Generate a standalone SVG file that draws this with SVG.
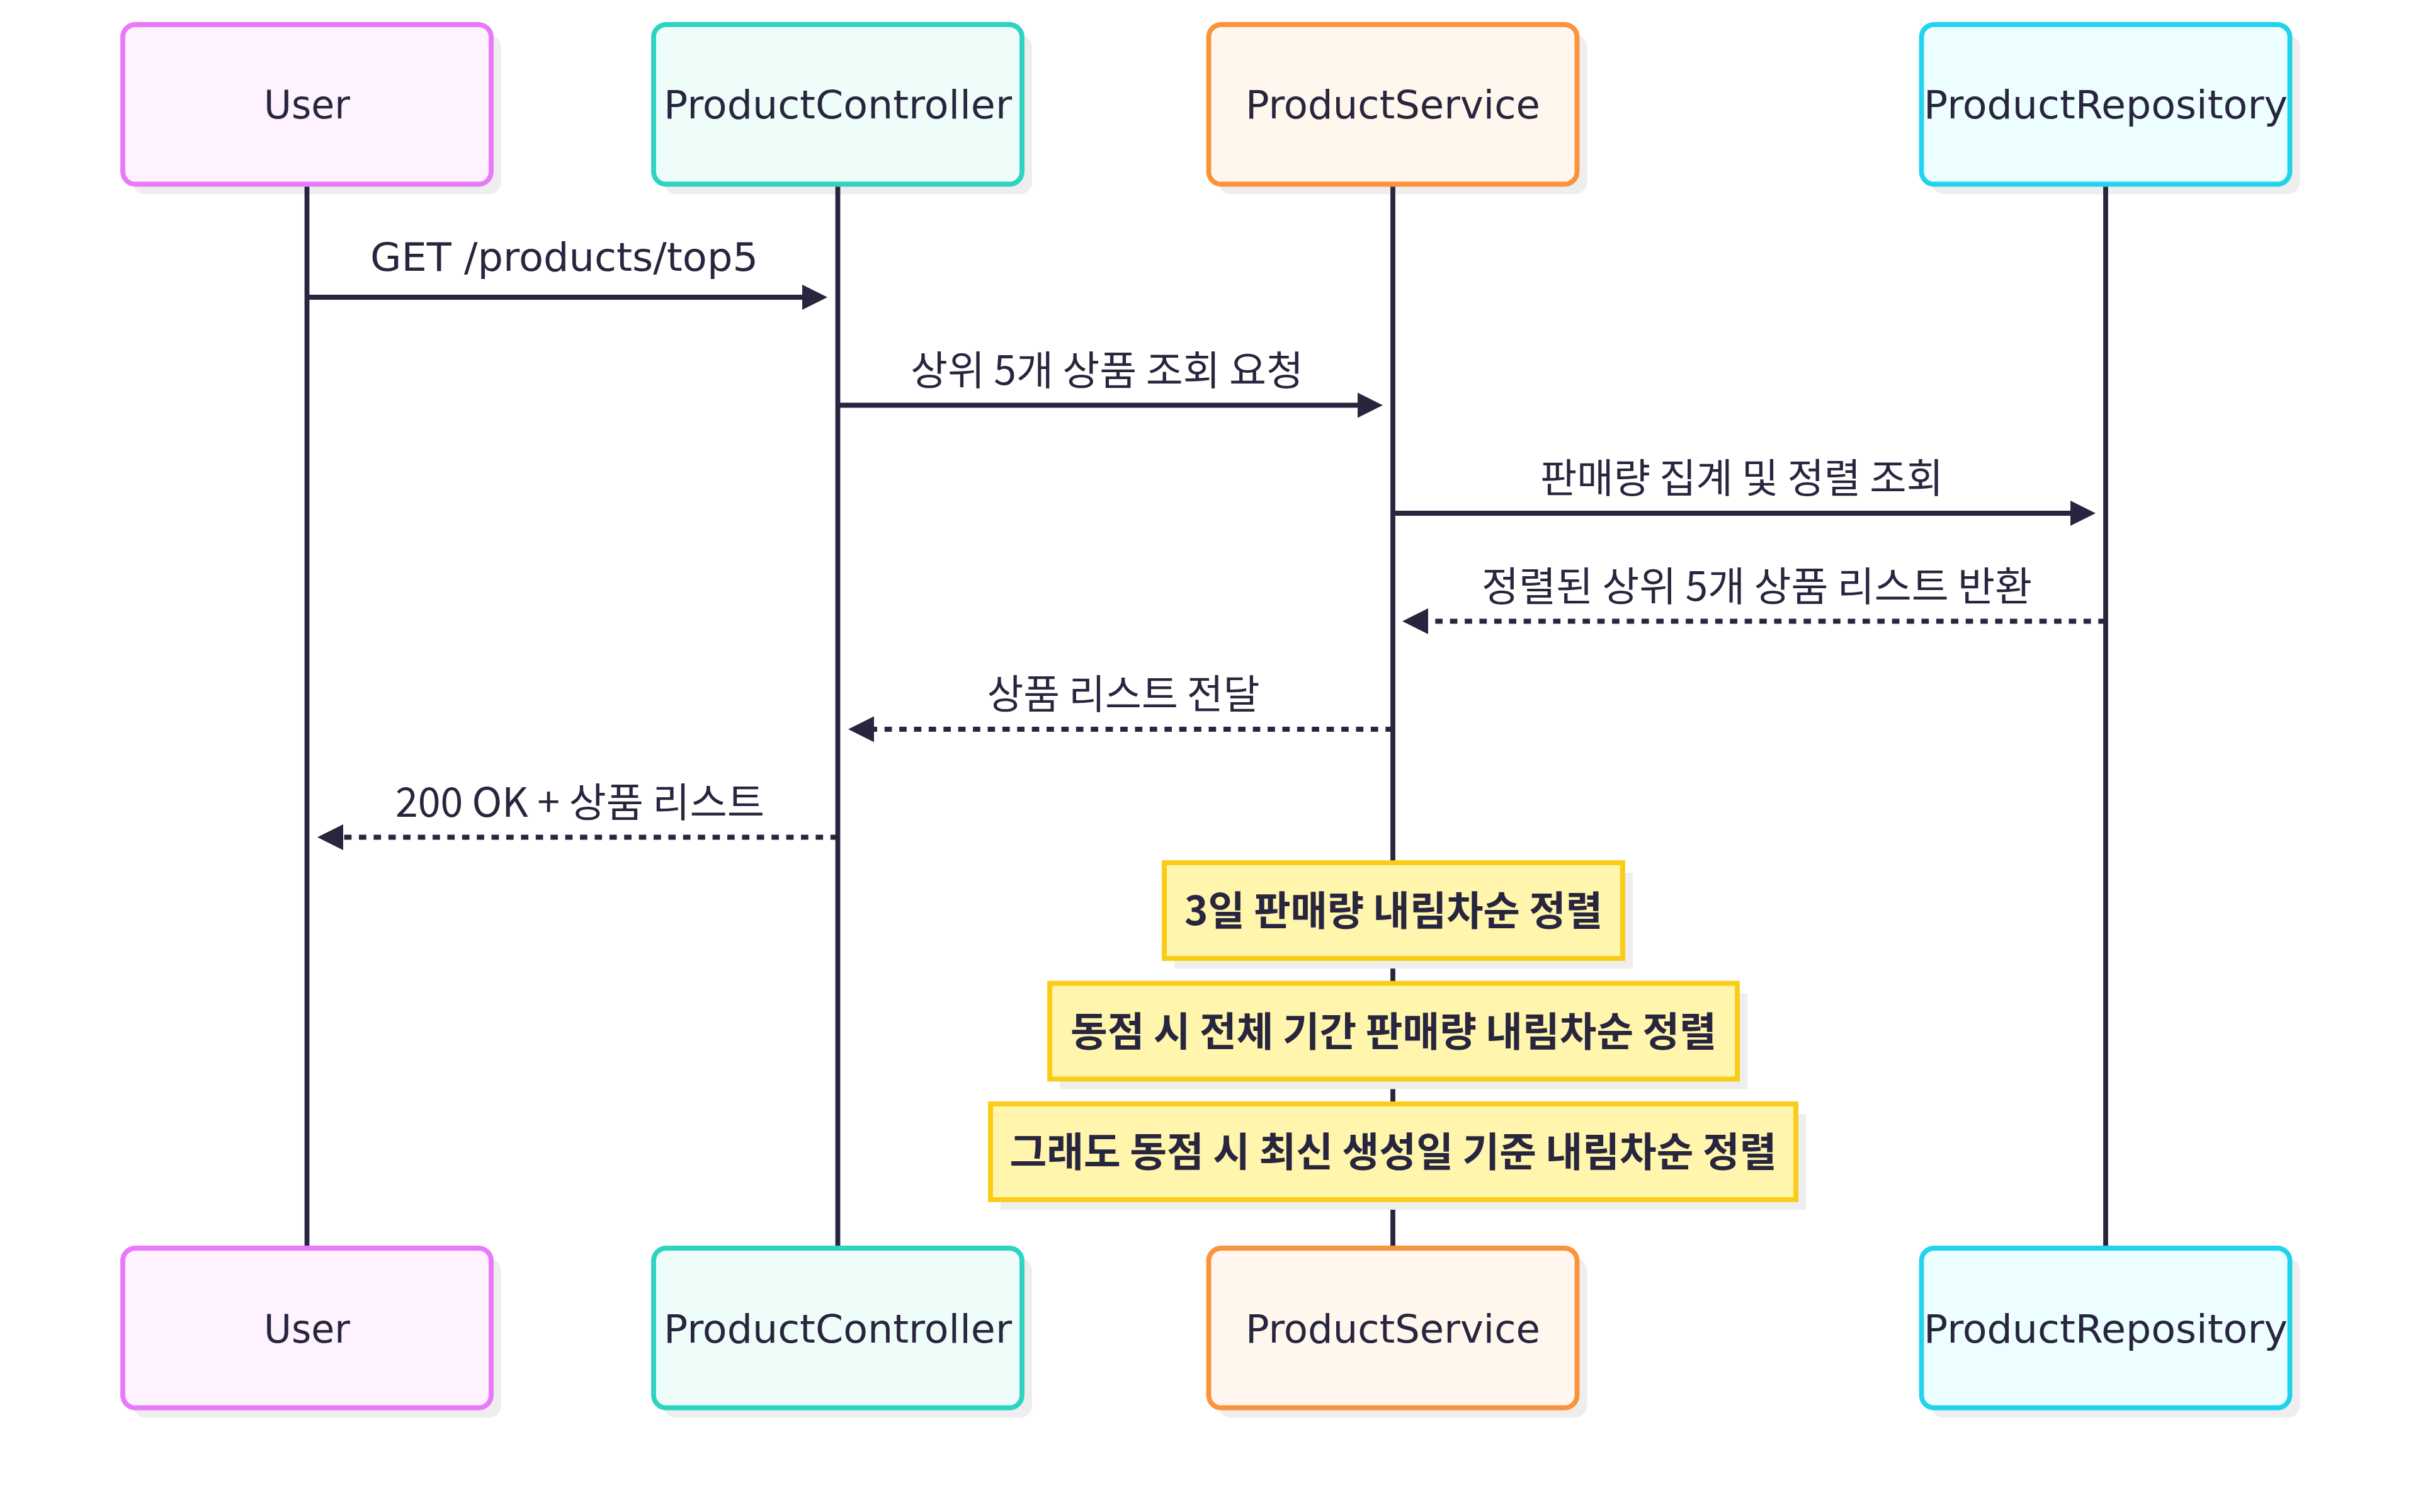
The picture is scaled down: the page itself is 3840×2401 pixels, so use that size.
<svg xmlns="http://www.w3.org/2000/svg" width="3840" height="2401" viewBox="0 0 3840 2401">
<style>
  .bg { fill: #ffffff; }
  .shadow { fill: #eeeeee; }
  .actor { stroke-width: 7.8; }
  .user { fill: #fdf2fe; stroke: #e879f9; }
  .ctrl { fill: #effdfa; stroke: #2dd4bf; }
  .svc { fill: #fff6ed; stroke: #fb923c; }
  .repo { fill: #ecfeff; stroke: #22d3ee; }
  .lbl { font-family: "DejaVu Sans", "Noto Sans CJK KR", sans-serif; font-size: 62.4px; fill: #28263e; text-anchor: middle; }
  .ko { font-family: "Noto Sans CJK KR", "Noto Sans", sans-serif; font-size: 64px; }
  .note-t { font-weight: bold; }
  .life { stroke: #28263e; stroke-width: 7.8; fill: none; }
  .msg { stroke: #28263e; stroke-width: 7.8; fill: none; }
  .dot { stroke-dasharray: 11.7 11.7; }
  .head { fill: #28263e; }
  .note { fill: #fff5ad; stroke: #facc15; stroke-width: 7.8; }
</style>
<rect class="bg" x="0" y="0" width="3840" height="2401"/>

<g id="actor-user-top">
  <rect class="shadow" x="211" y="55" width="585" height="253.5" rx="20"/>
  <rect class="actor user" x="195" y="39" width="585" height="253.5" rx="20"/>
  <text class="lbl" x="487.5" y="188" textLength="137" lengthAdjust="spacingAndGlyphs">User</text>
</g>
<g id="actor-controller-top">
  <rect class="shadow" x="1054" y="55" width="585" height="253.5" rx="20"/>
  <rect class="actor ctrl" x="1038" y="39" width="585" height="253.5" rx="20"/>
  <text class="lbl" x="1330.5" y="188" textLength="553" lengthAdjust="spacingAndGlyphs">ProductController</text>
</g>
<g id="actor-service-top">
  <rect class="shadow" x="1935.5" y="55" width="585" height="253.5" rx="20"/>
  <rect class="actor svc" x="1919.5" y="39" width="585" height="253.5" rx="20"/>
  <text class="lbl" x="2212" y="188" textLength="468" lengthAdjust="spacingAndGlyphs">ProductService</text>
</g>
<g id="actor-repository-top">
  <rect class="shadow" x="3067.5" y="55" width="585" height="253.5" rx="20"/>
  <rect class="actor repo" x="3051.5" y="39" width="585" height="253.5" rx="20"/>
  <text class="lbl" x="3344" y="188" textLength="578" lengthAdjust="spacingAndGlyphs">ProductRepository</text>
</g>

<g id="lifelines">
  <line class="life" x1="487.5" y1="296.4" x2="487.5" y2="1980"/>
  <line class="life" x1="1330.5" y1="296.4" x2="1330.5" y2="1980"/>
  <line class="life" x1="2212" y1="296.4" x2="2212" y2="1980"/>
  <line class="life" x1="3344" y1="296.4" x2="3344" y2="1980"/>
</g>

<g id="connectors">
  <g id="msg1">
    <line class="msg" x1="487.5" y1="472" x2="1300" y2="472"/>
    <polygon class="head" points="1314,472 1274,452 1274,492"/>
    <text class="lbl" x="896" y="430" textLength="616" lengthAdjust="spacingAndGlyphs">GET /products/top5</text>
  </g>
  <g id="msg2">
    <line class="msg" x1="1330.5" y1="643.5" x2="2182" y2="643.5"/>
    <polygon class="head" points="2196,643.5 2156,623.5 2156,663.5"/>
    <text class="lbl ko" x="1758" y="610.5" textLength="624" lengthAdjust="spacingAndGlyphs">상위 5개 상품 조회 요청</text>
  </g>
  <g id="msg3">
    <line class="msg" x1="2212" y1="815" x2="3314" y2="815"/>
    <polygon class="head" points="3328,815 3288,795 3288,835"/>
    <text class="lbl ko" x="2766" y="782" textLength="640" lengthAdjust="spacingAndGlyphs">판매량 집계 및 정렬 조회</text>
  </g>
  <g id="msg4">
    <line class="msg dot" x1="3344" y1="986.5" x2="2266" y2="986.5"/>
    <polygon class="head" points="2227,986.5 2268,966 2268,1007"/>
    <text class="lbl ko" x="2790" y="953.5" textLength="874" lengthAdjust="spacingAndGlyphs">정렬된 상위 5개 상품 리스트 반환</text>
  </g>
  <g id="msg5">
    <line class="msg dot" x1="2212" y1="1158" x2="1384" y2="1158"/>
    <polygon class="head" points="1347,1158 1388,1137.5 1388,1178.5"/>
    <text class="lbl ko" x="1784" y="1125" textLength="433" lengthAdjust="spacingAndGlyphs">상품 리스트 전달</text>
  </g>
  <g id="msg6">
    <line class="msg dot" x1="1330.5" y1="1329.5" x2="540" y2="1329.5"/>
    <polygon class="head" points="504,1329.5 545,1309 545,1350"/>
    <text class="lbl ko" x="921" y="1296.5" textLength="586" lengthAdjust="spacingAndGlyphs">200 OK + 상품 리스트</text>
  </g>
</g>

<g id="note1">
  <rect class="shadow" x="1865" y="1386" width="728" height="152"/>
  <rect class="note" x="1849" y="1370" width="728" height="152"/>
  <text class="lbl ko note-t" x="2213" y="1469" textLength="664" lengthAdjust="spacingAndGlyphs">3일 판매량 내림차순 정렬</text>
</g>
<g id="note2">
  <rect class="shadow" x="1683" y="1577.5" width="1092" height="152"/>
  <rect class="note" x="1667" y="1561.5" width="1092" height="152"/>
  <text class="lbl ko note-t" x="2213" y="1661" textLength="1026" lengthAdjust="spacingAndGlyphs">동점 시 전체 기간 판매량 내림차순 정렬</text>
</g>
<g id="note3">
  <rect class="shadow" x="1589" y="1769" width="1279" height="152"/>
  <rect class="note" x="1573" y="1753" width="1279" height="152"/>
  <text class="lbl ko note-t" x="2212.5" y="1852" textLength="1218" lengthAdjust="spacingAndGlyphs">그래도 동점 시 최신 생성일 기준 내림차순 정렬</text>
</g>

<g id="actor-user-bottom">
  <rect class="shadow" x="211" y="1998" width="585" height="253.5" rx="20"/>
  <rect class="actor user" x="195" y="1982" width="585" height="253.5" rx="20"/>
  <text class="lbl" x="487.5" y="2131.5" textLength="137" lengthAdjust="spacingAndGlyphs">User</text>
</g>
<g id="actor-controller-bottom">
  <rect class="shadow" x="1054" y="1998" width="585" height="253.5" rx="20"/>
  <rect class="actor ctrl" x="1038" y="1982" width="585" height="253.5" rx="20"/>
  <text class="lbl" x="1330.5" y="2131.5" textLength="553" lengthAdjust="spacingAndGlyphs">ProductController</text>
</g>
<g id="actor-service-bottom">
  <rect class="shadow" x="1935.5" y="1998" width="585" height="253.5" rx="20"/>
  <rect class="actor svc" x="1919.5" y="1982" width="585" height="253.5" rx="20"/>
  <text class="lbl" x="2212" y="2131.5" textLength="468" lengthAdjust="spacingAndGlyphs">ProductService</text>
</g>
<g id="actor-repository-bottom">
  <rect class="shadow" x="3067.5" y="1998" width="585" height="253.5" rx="20"/>
  <rect class="actor repo" x="3051.5" y="1982" width="585" height="253.5" rx="20"/>
  <text class="lbl" x="3344" y="2131.5" textLength="578" lengthAdjust="spacingAndGlyphs">ProductRepository</text>
</g>
</svg>
